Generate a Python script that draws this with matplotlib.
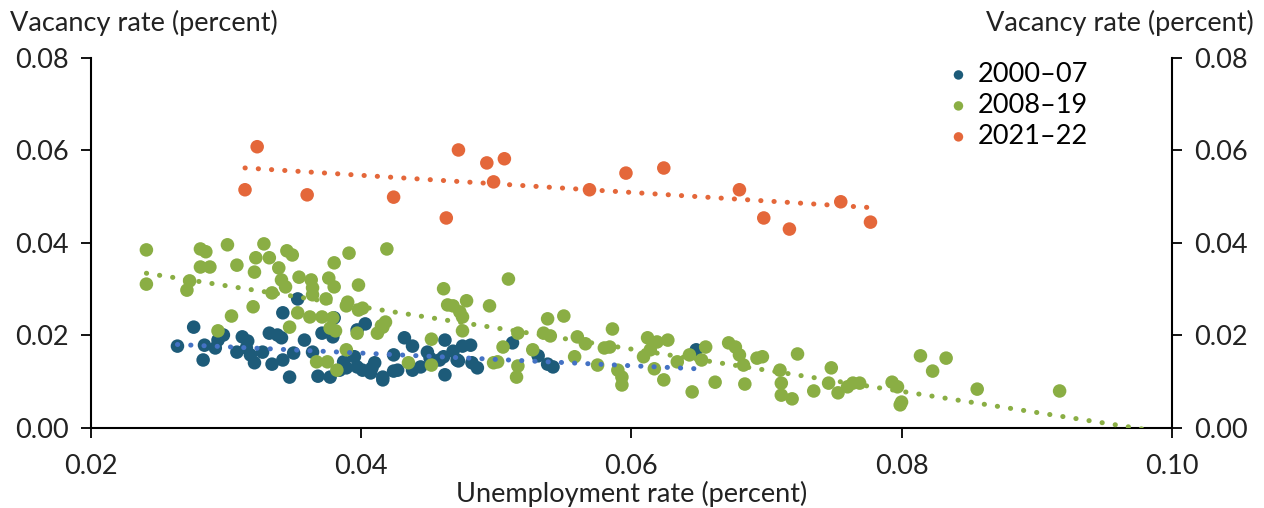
import numpy as np
import matplotlib
matplotlib.use("Agg")
import matplotlib.pyplot as plt

plt.rcParams['font.family'] = ['Lato', 'DejaVu Sans']

# unemployment rate / vacancy rate
u_0007 = [0.0276, 0.0342, 0.0353, 0.0380, 0.0403, 0.0264, 0.0284, 0.0292, 0.0283, 0.0298,
          0.0312, 0.0316, 0.0315, 0.0332, 0.0341, 0.0308, 0.0321, 0.0327, 0.0334, 0.0342,
          0.0350, 0.0358, 0.0364, 0.0371, 0.0379, 0.0347, 0.0368, 0.0377, 0.0387, 0.0389,
          0.0395, 0.0401, 0.0407, 0.0410, 0.0416, 0.0397, 0.0432, 0.0438, 0.0449, 0.0462,
          0.0468, 0.0475, 0.0481, 0.0424, 0.0424, 0.0427, 0.0438, 0.0444, 0.0461, 0.0472,
          0.0482, 0.0486, 0.0462, 0.0512, 0.0531, 0.0538, 0.0542, 0.0416, 0.0648,
          0.0318, 0.0338, 0.0294, 0.0451, 0.0471, 0.0458, 0.0408, 0.0397, 0.0384]
v_0007 = [0.0218, 0.0249, 0.0279, 0.0238, 0.0225, 0.0177, 0.0179, 0.0173, 0.0147, 0.0201,
          0.0197, 0.0188, 0.0173, 0.0205, 0.0195, 0.0164, 0.0141, 0.0164, 0.0138, 0.0147,
          0.0162, 0.0190, 0.0164, 0.0205, 0.0197, 0.0110, 0.0112, 0.0110, 0.0143, 0.0130,
          0.0154, 0.0125, 0.0119, 0.0141, 0.0110, 0.0212, 0.0195, 0.0177, 0.0164, 0.0190,
          0.0166, 0.0177, 0.0179, 0.0158, 0.0123, 0.0125, 0.0125, 0.0132, 0.0154, 0.0145,
          0.0141, 0.0130, 0.0115, 0.0184, 0.0156, 0.0138, 0.0132, 0.0104, 0.0169,
          0.0158, 0.0201, 0.0190, 0.0151, 0.0147, 0.0147, 0.0130, 0.0132, 0.0125]

u_0819 = [0.0241, 0.0281, 0.0285, 0.0301, 0.0328, 0.0345, 0.0349, 0.0391, 0.0281, 0.0288,
          0.0308, 0.0322, 0.0332, 0.0339, 0.0321, 0.0380, 0.0241, 0.0273, 0.0271, 0.0341,
          0.0344, 0.0354, 0.0363, 0.0364, 0.0364, 0.0376, 0.0380, 0.0398, 0.0334, 0.0353,
          0.0320, 0.0304, 0.0374, 0.0390, 0.0389, 0.0398, 0.0362, 0.0371, 0.0379, 0.0377,
          0.0381, 0.0347, 0.0294, 0.0397, 0.0412, 0.0416, 0.0389, 0.0367, 0.0375, 0.0382,
          0.0419, 0.0461, 0.0509, 0.0478, 0.0495, 0.0464, 0.0468, 0.0473, 0.0475, 0.0475,
          0.0401, 0.0418, 0.0415, 0.0452, 0.0505, 0.0527, 0.0538, 0.0550, 0.0516, 0.0535,
          0.0540, 0.0560, 0.0566, 0.0558, 0.0516, 0.0515, 0.0498, 0.0501, 0.0435, 0.0452,
          0.0586, 0.0575, 0.0580, 0.0584, 0.0590, 0.0593, 0.0593, 0.0612, 0.0619, 0.0627,
          0.0609, 0.0614, 0.0617, 0.0624, 0.0634, 0.0645, 0.0643, 0.0652, 0.0655, 0.0662,
          0.0672, 0.0677, 0.0680, 0.0683, 0.0684, 0.0693, 0.0697, 0.0710, 0.0711, 0.0711,
          0.0719, 0.0723, 0.0735, 0.0746, 0.0748, 0.0753, 0.0760, 0.0764, 0.0769, 0.0793,
          0.0797, 0.0800, 0.0799, 0.0814, 0.0823, 0.0833, 0.0856, 0.0917]
v_0819 = [0.0385, 0.0387, 0.0381, 0.0396, 0.0398, 0.0383, 0.0374, 0.0378, 0.0348, 0.0348,
          0.0352, 0.0368, 0.0368, 0.0346, 0.0337, 0.0357, 0.0311, 0.0318, 0.0298, 0.0320,
          0.0305, 0.0326, 0.0320, 0.0303, 0.0288, 0.0324, 0.0305, 0.0309, 0.0292, 0.0249,
          0.0262, 0.0242, 0.0279, 0.0272, 0.0264, 0.0255, 0.0240, 0.0240, 0.0238, 0.0216,
          0.0210, 0.0218, 0.0210, 0.0205, 0.0205, 0.0218, 0.0169, 0.0143, 0.0143, 0.0125,
          0.0387, 0.0301, 0.0322, 0.0275, 0.0264, 0.0266, 0.0264, 0.0251, 0.0240, 0.0210,
          0.0259, 0.0229, 0.0221, 0.0192, 0.0175, 0.0169, 0.0236, 0.0242, 0.0205, 0.0205,
          0.0199, 0.0197, 0.0182, 0.0154, 0.0134, 0.0110, 0.0141, 0.0143, 0.0141, 0.0136,
          0.0214, 0.0136, 0.0173, 0.0175, 0.0125, 0.0110, 0.0093, 0.0195, 0.0186, 0.0190,
          0.0154, 0.0169, 0.0128, 0.0104, 0.0143, 0.0078, 0.0158, 0.0147, 0.0175, 0.0099,
          0.0184, 0.0175, 0.0158, 0.0136, 0.0095, 0.0151, 0.0154, 0.0125, 0.0097, 0.0071,
          0.0063, 0.0160, 0.0080, 0.0097, 0.0130, 0.0076, 0.0089, 0.0097, 0.0097, 0.0099,
          0.0089, 0.0056, 0.0050, 0.0156, 0.0123, 0.0151, 0.0084, 0.0080]

u_2122 = [0.0323, 0.0314, 0.0360, 0.0424, 0.0463, 0.0472, 0.0493, 0.0498, 0.0506, 0.0569,
          0.0596, 0.0624, 0.0680, 0.0698, 0.0717, 0.0755, 0.0777]
v_2122 = [0.0608, 0.0515, 0.0504, 0.0499, 0.0454, 0.0601, 0.0573, 0.0532, 0.0582, 0.0515,
          0.0551, 0.0562, 0.0515, 0.0454, 0.0430, 0.0489, 0.0445]

series = [
    ("2000\u201307", u_0007, v_0007, "#1d5b79", "#4472c4"),
    ("2008\u201319", u_0819, v_0819, "#8aae44", "#8aae44"),
    ("2021\u201322", u_2122, v_2122, "#e4673a", "#e4673a"),
]

fs = 19.5
txt = "#222222"

fig = plt.figure(figsize=(12.64, 5.08), dpi=100)
ax = fig.add_axes([0.072, 0.1575, 0.855, 0.7285])

for label, u, v, c, tc in series:
    ax.scatter(u, v, s=95, color=c, edgecolors="none", label=label, zorder=3)

# linear trend lines (the 2008-19 one is carried forward to the axis)
for label, u, v, c, tc in series:
    k, b = np.polyfit(u, v, 1)
    x0 = min(u)
    x1 = 0.10 if label.startswith("2008") else max(u)
    xs = np.array([x0, x1])
    ax.plot(xs, k * xs + b, color=tc, lw=3.6, linestyle=(0, (0.05, 2.6)),
            dash_capstyle="round", zorder=4)

ax.set_xlim(0.02, 0.10)
ax.set_ylim(0, 0.08)
ax.set_xticks([0.02, 0.04, 0.06, 0.08, 0.10])
ax.set_xticklabels(["0.02", "0.04", "0.06", "0.08", "0.10"])
ax.set_yticks([0, 0.02, 0.04, 0.06, 0.08])
ax.set_yticklabels(["0.00", "0.02", "0.04", "0.06", "0.08"])
ax.tick_params(axis="both", labelsize=fs, length=7, width=1.3, color="black",
               direction="out", labelcolor=txt)
ax.tick_params(axis="y", right=True, labelright=True, pad=9)
ax.tick_params(axis="x", pad=12)
ax.spines["top"].set_visible(False)
for s in ["left", "right", "bottom"]:
    ax.spines[s].set_linewidth(1.5)

ax.set_xlabel("Unemployment rate (percent)", fontsize=fs, color=txt, labelpad=1)
fig.text(0.008, 0.955, "Vacancy rate (percent)", fontsize=fs, color=txt,
         ha="left", va="center")
fig.text(0.992, 0.955, "Vacancy rate (percent)", fontsize=fs, color=txt,
         ha="right", va="center")

ax.legend(loc="upper right", bbox_to_anchor=(0.94, 1.04), frameon=False, fontsize=fs,
          markerscale=0.7, handletextpad=0.1, labelspacing=0.22, borderpad=0.2,
          handlelength=1.2)

fig.savefig("out.png", dpi=100)
